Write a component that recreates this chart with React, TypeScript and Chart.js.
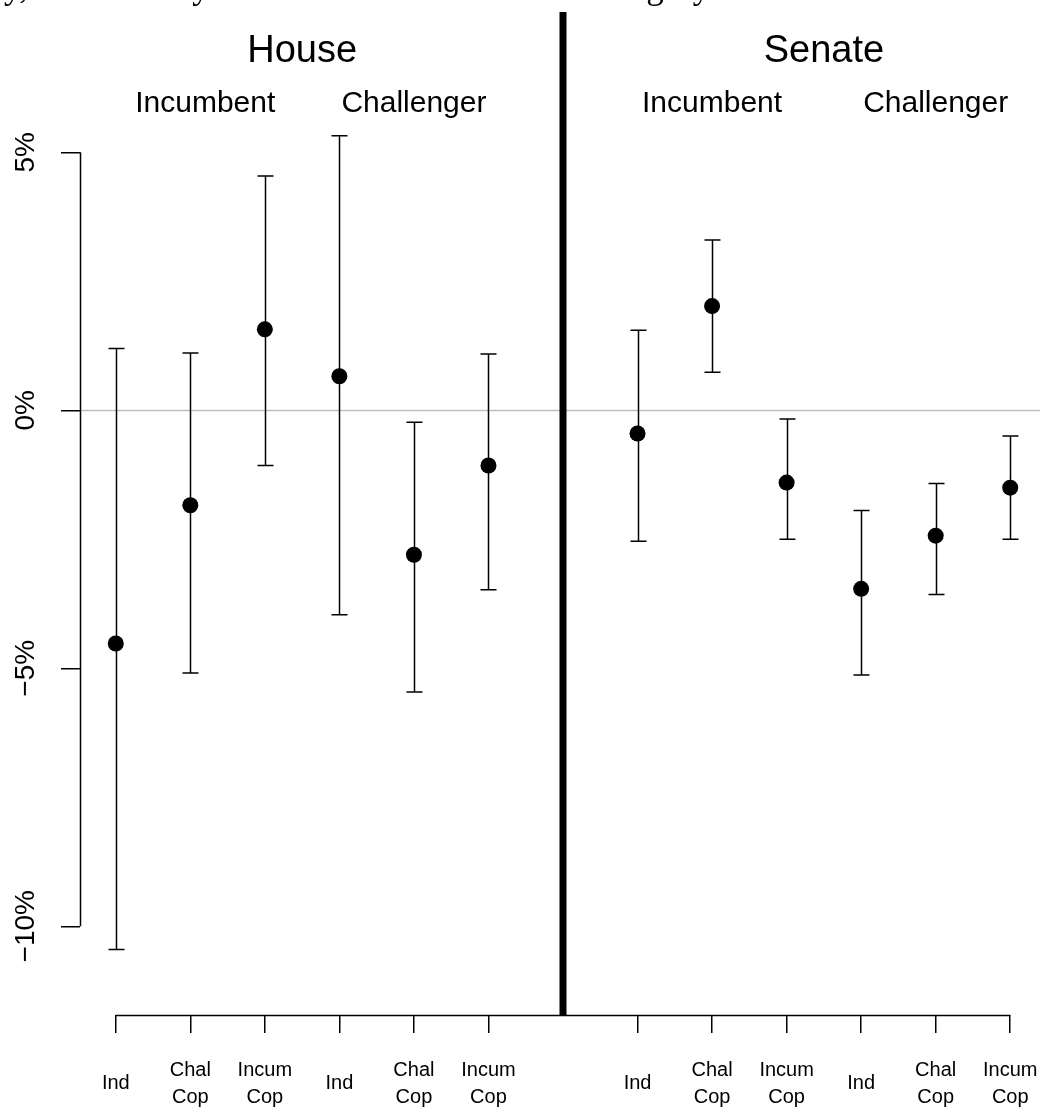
import React, { useEffect, useRef } from 'react';
import { Chart, registerables } from 'chart.js';

Chart.register(...registerables);

// ---- data ----
const categories = ['Ind', 'Chal Cop', 'Incum Cop', 'Ind', 'Chal Cop', 'Incum Cop', 'Ind', 'Chal Cop', 'Incum Cop', 'Ind', 'Chal Cop', 'Incum Cop'];
const tickLabels: string[][] = [
  ['Ind'], ['Chal', 'Cop'], ['Incum', 'Cop'], ['Ind'], ['Chal', 'Cop'], ['Incum', 'Cop'],
  ['Ind'], ['Chal', 'Cop'], ['Incum', 'Cop'], ['Ind'], ['Chal', 'Cop'], ['Incum', 'Cop'],
];
const positions = [1, 2, 3, 4, 5, 6, 8, 9, 10, 11, 12, 13];
const estimates = [-4.52, -1.84, 1.57, 0.66, -2.8, -1.07, -0.45, 2.02, -1.4, -3.46, -2.43, -1.5];
const upper = [1.2, 1.11, 4.54, 5.32, -0.23, 1.09, 1.55, 3.3, -0.17, -1.94, -1.42, -0.5];
const lower = [-10.45, -5.09, -1.07, -3.96, -5.46, -3.48, -2.54, 0.74, -2.5, -5.13, -3.57, -2.5];
const yTicks = [-10, -5, 0, 5];
const xLim = [1, 13];
const yLim = [-11, 7];
const dividerAt = 7;
const chamberLabels = ['House', 'Senate'];
const chamberX = [3.5, 10.5];
const statusLabels = ['Incumbent', 'Challenger', 'Incumbent', 'Challenger'];
const statusX = [2.2, 5, 9, 12];
const titleText = 'y, Incumbency Status and Voter Transfer Category';

const W = 1060;
const H = 1108;
const SANS = '"Liberation Sans", Arial, Helvetica, sans-serif';

const ext = (lim: number[]) => {
  const d = (lim[1] - lim[0]) * 0.04;
  return [lim[0] - d, lim[1] + d];
};

const fmtPct = (v: number) => (v === 0 ? '0%' : v < 0 ? '\u2212' + Math.abs(v) + '%' : v + '%');

const overlay = {
  id: 'overlay',
  beforeDatasetsDraw(chart: any) {
    const { ctx, chartArea, scales } = chart;
    const xs = scales.x;
    const ys = scales.y;
    ctx.save();
    // zero reference line
    ctx.strokeStyle = '#bebebe';
    ctx.lineWidth = 1.5;
    ctx.beginPath();
    const y0 = Math.round(ys.getPixelForValue(0)) + 0.5;
    ctx.moveTo(chartArea.left, y0);
    ctx.lineTo(chartArea.right, y0);
    ctx.stroke();
    // divider
    ctx.strokeStyle = '#000';
    ctx.lineWidth = 7;
    ctx.beginPath();
    const xd = xs.getPixelForValue(dividerAt);
    ctx.moveTo(xd, chartArea.top);
    ctx.lineTo(xd, chartArea.bottom);
    ctx.stroke();
    // error bars
    ctx.lineWidth = 1.5;
    positions.forEach((p, i) => {
      const x = Math.round(xs.getPixelForValue(p)) + 0.5;
      const yt = ys.getPixelForValue(upper[i]);
      const yb = ys.getPixelForValue(lower[i]);
      ctx.beginPath();
      ctx.moveTo(x, yt);
      ctx.lineTo(x, yb);
      ctx.moveTo(x - 8, yt);
      ctx.lineTo(x + 8, yt);
      ctx.moveTo(x - 8, yb);
      ctx.lineTo(x + 8, yb);
      ctx.stroke();
    });
    // R-style axis lines
    ctx.lineWidth = 1.5;
    ctx.beginPath();
    const xa = chartArea.left + 0.5;
    ctx.moveTo(xa, ys.getPixelForValue(yTicks[0]));
    ctx.lineTo(xa, ys.getPixelForValue(yTicks[yTicks.length - 1]));
    const ya = chartArea.bottom + 0.5;
    ctx.moveTo(xs.getPixelForValue(positions[0]), ya);
    ctx.lineTo(xs.getPixelForValue(positions[positions.length - 1]), ya);
    ctx.stroke();
    ctx.restore();
  },
  afterDraw(chart: any) {
    const { ctx, scales } = chart;
    const xs = scales.x;
    const ys = scales.y;
    ctx.save();
    ctx.fillStyle = '#000';
    ctx.textAlign = 'center';
    ctx.textBaseline = 'middle';
    ctx.font = `38px ${SANS}`;
    chamberLabels.forEach((t, i) => {
      ctx.fillText(t, xs.getPixelForValue(chamberX[i]), ys.getPixelForValue(6.95));
    });
    ctx.font = `30px ${SANS}`;
    statusLabels.forEach((t, i) => {
      ctx.fillText(t, xs.getPixelForValue(statusX[i]), ys.getPixelForValue(5.94));
    });
    // clipped title
    ctx.textAlign = 'left';
    ctx.textBaseline = 'alphabetic';
    ctx.font = '35px "Liberation Serif", "Times New Roman", serif';
    ctx.fillText(titleText, 4, -2);
    ctx.restore();
  },
};

export default function App() {
  const ref = useRef<HTMLCanvasElement | null>(null);
  useEffect(() => {
    if (!ref.current) return;
    const xr = ext(xLim);
    const yr = ext(yLim);
    const chart = new Chart(ref.current, {
      type: 'scatter',
      data: {
        labels: categories,
        datasets: [
          {
            data: positions.map((x, i) => ({ x, y: estimates[i] })),
            pointRadius: 8,
            pointHoverRadius: 8,
            backgroundColor: '#000',
            borderColor: '#000',
            pointBorderWidth: 0,
          },
        ],
      },
      options: {
        responsive: false,
        animation: false,
        devicePixelRatio: 1,
        layout: { padding: { top: 12, right: W - 1046, left: 0, bottom: 0 } },
        plugins: { legend: { display: false }, tooltip: { enabled: false } },
        scales: {
          x: {
            type: 'linear',
            min: xr[0],
            max: xr[1],
            afterBuildTicks: (s: any) => {
              s.ticks = positions.map((v) => ({ value: v }));
            },
            afterFit: (s: any) => {
              s.height = H - 1015;
              s.paddingLeft = 0;
              s.paddingRight = 0;
            },
            ticks: {
              autoSkip: false,
              maxRotation: 0,
              minRotation: 0,
              crossAlign: 'center',
              padding: 37,
              color: '#000',
              font: { family: SANS, size: 20, lineHeight: 1.36 },
              callback: (_v: any, i: number) => tickLabels[i],
            },
            grid: { drawOnChartArea: false, drawTicks: true, tickLength: 18, color: '#000', lineWidth: 1.5 },
            border: { display: false },
          },
          y: {
            type: 'linear',
            min: yr[0],
            max: yr[1],
            afterBuildTicks: (s: any) => {
              s.ticks = yTicks.map((v) => ({ value: v }));
            },
            afterFit: (s: any) => {
              s.width = 80;
              s.paddingTop = 0;
              s.paddingBottom = 0;
            },
            ticks: {
              minRotation: 90,
              maxRotation: 90,
              crossAlign: 'center',
              padding: -1,
              color: '#000',
              font: { family: SANS, size: 28 },
              callback: (v: any) => fmtPct(Number(v)),
            },
            grid: { drawOnChartArea: false, drawTicks: true, tickLength: 19, color: '#000', lineWidth: 1.5 },
            border: { display: false },
          },
        },
      },
      plugins: [overlay],
    } as any);
    return () => chart.destroy();
  }, []);
  return (
    <div style={{ position: 'absolute', left: 0, top: 0, width: 1040, height: H, overflow: 'hidden', background: '#fff' }}>
      <canvas ref={ref} width={W} height={H} style={{ width: W, height: H, display: 'block' }} />
    </div>
  );
}
